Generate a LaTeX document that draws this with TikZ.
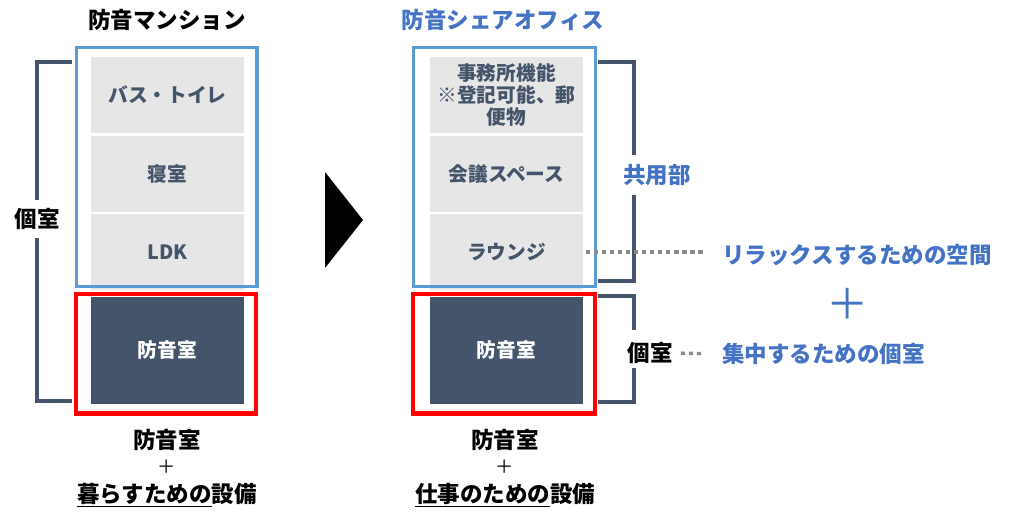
\documentclass[tikz,border=0pt]{standalone}
\usepackage{fontspec}
\setmainfont{Noto Sans CJK JP}
\usetikzlibrary{positioning}
\definecolor{slate}{HTML}{44546A}
\definecolor{cellgray}{HTML}{E7E6E6}
\definecolor{frameblue}{HTML}{5B9BD5}
\definecolor{textblue}{HTML}{4472C4}
\definecolor{dotgray}{HTML}{8C8C8C}
\begin{document}
\begin{tikzpicture}[
    x=0.025cm, y=-0.025cm,
    every node/.style={inner sep=0pt, font=\bfseries\fontsize{16}{19}\selectfont},
    cell/.style={fill=cellgray, text=slate, minimum width=3.825cm, minimum height=1.9cm,
      align=center, font=\bfseries\fontsize{14}{15.5}\selectfont},
    soundroom/.style={fill=slate, text=white, minimum width=3.825cm, minimum height=2.675cm,
      font=\bfseries\fontsize{14}{15}\selectfont},
    blueframe/.style={draw=frameblue, line width=2.7pt},
    redframe/.style={draw=red, line width=3.4pt},
    bracket/.style={draw=slate, line width=2.6pt},
    dotline/.style={draw=dotgray, line width=2.4pt, dash pattern=on 3pt off 2.7pt},
    plussign/.style={font=\fontsize{13}{13}\selectfont},
  ]
    \useasboundingbox (0,0) rectangle (1010,530);

    % 左：防音マンション
    \node (titleL) at (167,20) {防音マンション};
    \node[cell] (bath) at (167.5,95) {バス・トイレ};
    \node[cell, below=0.05cm of bath] (bed) {寝室};
    \node[cell, below=0.05cm of bed] (ldk) {LDK};
    \node[soundroom, below=0.15cm of ldk] (roomL) {防音室};
    \draw[blueframe] (76.5,47.5) rectangle (257,286.5);
    \draw[redframe] (76,294) rectangle (256,413.5);

    % 左の括弧
    \node[inner ysep=0.2cm] (privL) at (37,219) {個室};
    \draw[bracket] (72,62) -| (privL.north);
    \draw[bracket] (privL.south) |- (72,401);

    % 左の下の説明
    \node (roomLtxt) at (167,440) {防音室};
    \node[plussign] (plusL) at (167,467) {＋};
    \node (needL) at (167,495) {\underline{暮らすための}設備};

    % 矢印
    \fill (325,172) -- (363,220) -- (325,268) -- cycle;

    % 右：防音シェアオフィス
    \node[text=textblue] (titleR) at (503,20) {防音シェアオフィス};
    \node[cell] (office) at (506.5,95) {事務所機能\\※登記可能、郵\\便物};
    \node[cell, below=0.05cm of office] (meeting) {会議スペース};
    \node[cell, below=0.05cm of meeting] (lounge) {ラウンジ};
    \node[soundroom, below=0.15cm of lounge] (roomR) {防音室};
    \draw[blueframe] (413.5,47.5) rectangle (595.5,286.5);
    \draw[redframe] (413,294) rectangle (595,413.5);

    % 右の括弧
    \draw[bracket] (598,62) -- (634,62) -- (634,155);
    \draw[bracket] (634,195) -- (634,281) -- (598,281);
    \node[text=textblue] (shared) at (657,175) {共用部};
    \draw[bracket] (598,296) -- (634,296) -- (634,330);
    \draw[bracket] (634,368) -- (634,402) -- (598,402);
    \node (privR) at (650,353) {個室};

    % 右の説明
    \node[text=textblue, anchor=west] (relax) at (722,255) {リラックスするための空間};
    \node[text=textblue, font=\fontsize{30}{30}\selectfont] (plusR) at (848,304) {＋};
    \node[text=textblue, anchor=west] (focus) at (722,354) {集中するための個室};
    \draw[dotline, shorten <=2pt, shorten >=0.475cm] (lounge.east) -- (lounge.east -| relax.west);
    \draw[dotline, shorten <=0.2cm, shorten >=0.475cm] (privR.east) -- (focus.west);

    % 右の下の説明
    \node (roomRtxt) at (505,440) {防音室};
    \node[plussign] (plusR2) at (505,467) {＋};
    \node (needR) at (505,495) {\underline{仕事のための}設備};
  \end{tikzpicture}
\end{document}
